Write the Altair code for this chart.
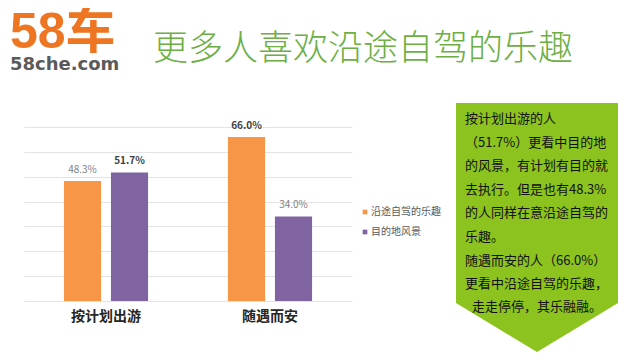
import altair as alt
import pandas as pd

categories = ["按计划出游", "随遇而安"]
series = ["沿途自驾的乐趣", "目的地风景"]
along_the_way = [48.3, 66.0]
destination = [51.7, 34.0]
colors = ["#F79646", "#8064A2"]

title_text = "更多人喜欢沿途自驾的乐趣"
note_lines = [
    "按计划出游的人",
    "（51.7%）更看中目的地",
    "的风景，有计划有目的就",
    "去执行。但是也有48.3%",
    "的人同样在意沿途自驾的",
    "乐趣。",
    "随遇而安的人（66.0%）",
    "更看中沿途自驾的乐趣，",
]
note_last = "走走停停，其乐融融。"

rows = []
for i, c in enumerate(categories):
    rows.append({"category": c, "series": series[0], "value": along_the_way[i]})
    rows.append({"category": c, "series": series[1], "value": destination[i]})
df = pd.DataFrame(rows)

CJK = "Noto Sans CJK SC"

base = alt.Chart(df).transform_calculate(
    label="format(datum.value, '.1f') + '%'"
).encode(
    x=alt.X("category:N", sort=categories,
            scale=alt.Scale(paddingInner=0, paddingOuter=0),
            axis=alt.Axis(title=None, labelAngle=0, labelFont=CJK, labelFontSize=14,
                          labelFontWeight="bold", labelColor="#262626", labelPadding=8,
                          domain=False, ticks=False, grid=False)),
    xOffset=alt.XOffset("series:N", sort=series,
                        scale=alt.Scale(paddingInner=0.21, paddingOuter=0.85)),
    y=alt.Y("value:Q", scale=alt.Scale(domain=[0, 70], nice=False),
            axis=alt.Axis(title=None, labels=False, ticks=False, domain=False,
                          values=list(range(0, 80, 10)), gridColor="#E3E3E3")),
)

bars = base.mark_bar().encode(
    color=alt.Color("series:N", sort=series,
                    scale=alt.Scale(domain=series, range=colors),
                    legend=alt.Legend(title=None, orient="none", legendX=336, legendY=80,
                                      symbolType="square", symbolSize=22, symbolStrokeWidth=0,
                                      labelFont=CJK, labelFontSize=10, labelColor="#595959",
                                      rowPadding=10, labelOffset=1))
)

lab_bold = base.transform_filter("datum.value > 50").mark_text(
    dy=-6, baseline="bottom", font=CJK, fontSize=10, fontWeight="bold", color="#404040"
).encode(text="label:N")
lab_norm = base.transform_filter("datum.value <= 50").mark_text(
    dy=-6, baseline="bottom", font=CJK, fontSize=10, color="#7F7F7F"
).encode(text="label:N")

dummy = pd.DataFrame({"k": [0]})
ann = alt.Chart(dummy)

green_shape = ann.mark_point(
    shape="M0,0 L162,0 L162,200 L81,249 L0,200 Z", size=4, filled=True,
    color="#8CC31F", opacity=1, strokeWidth=0
).encode(x=alt.value(432), y=alt.value(-24))

note = ann.mark_text(
    align="left", baseline="alphabetic", font=CJK, fontSize=13, color="#111111",
    lineHeight=23.6
).encode(x=alt.value(441), y=alt.value(-4), text=alt.value(note_lines))

note2 = ann.mark_text(
    align="center", baseline="middle", font=CJK, fontSize=13, color="#111111"
).encode(x=alt.value(513), y=alt.value(180), text=alt.value(note_last))

title = ann.mark_text(
    align="left", baseline="middle", font=CJK, fontSize=35, fontWeight=300,
    color="#6DAF45"
).encode(x=alt.value(129), y=alt.value(-78), text=alt.value(title_text))

logo = ann.mark_text(
    align="left", baseline="alphabetic", font="Liberation Sans, Noto Sans CJK SC",
    fontSize=50, fontWeight="bold", color="#EE7623"
).encode(x=alt.value(-14), y=alt.value(-79), text=alt.value("58车"))

logo2 = ann.mark_text(
    align="left", baseline="alphabetic", font="DejaVu Sans",
    fontSize=18, fontWeight="bold", color="#5A5A5A"
).encode(x=alt.value(-14), y=alt.value(-57), text=alt.value("58che.com"))

chart = alt.layer(
    green_shape, bars, lab_bold, lab_norm, note, note2, title, logo, logo2
).properties(
    width=328, height=174,
    autosize=alt.AutoSizeParams(type="none"),
    padding={"left": 16, "top": 119, "right": 280, "bottom": 51},
    background="white",
).configure_view(stroke=None)

chart.save("out.html", embed_options={"renderer": "svg", "actions": False})
